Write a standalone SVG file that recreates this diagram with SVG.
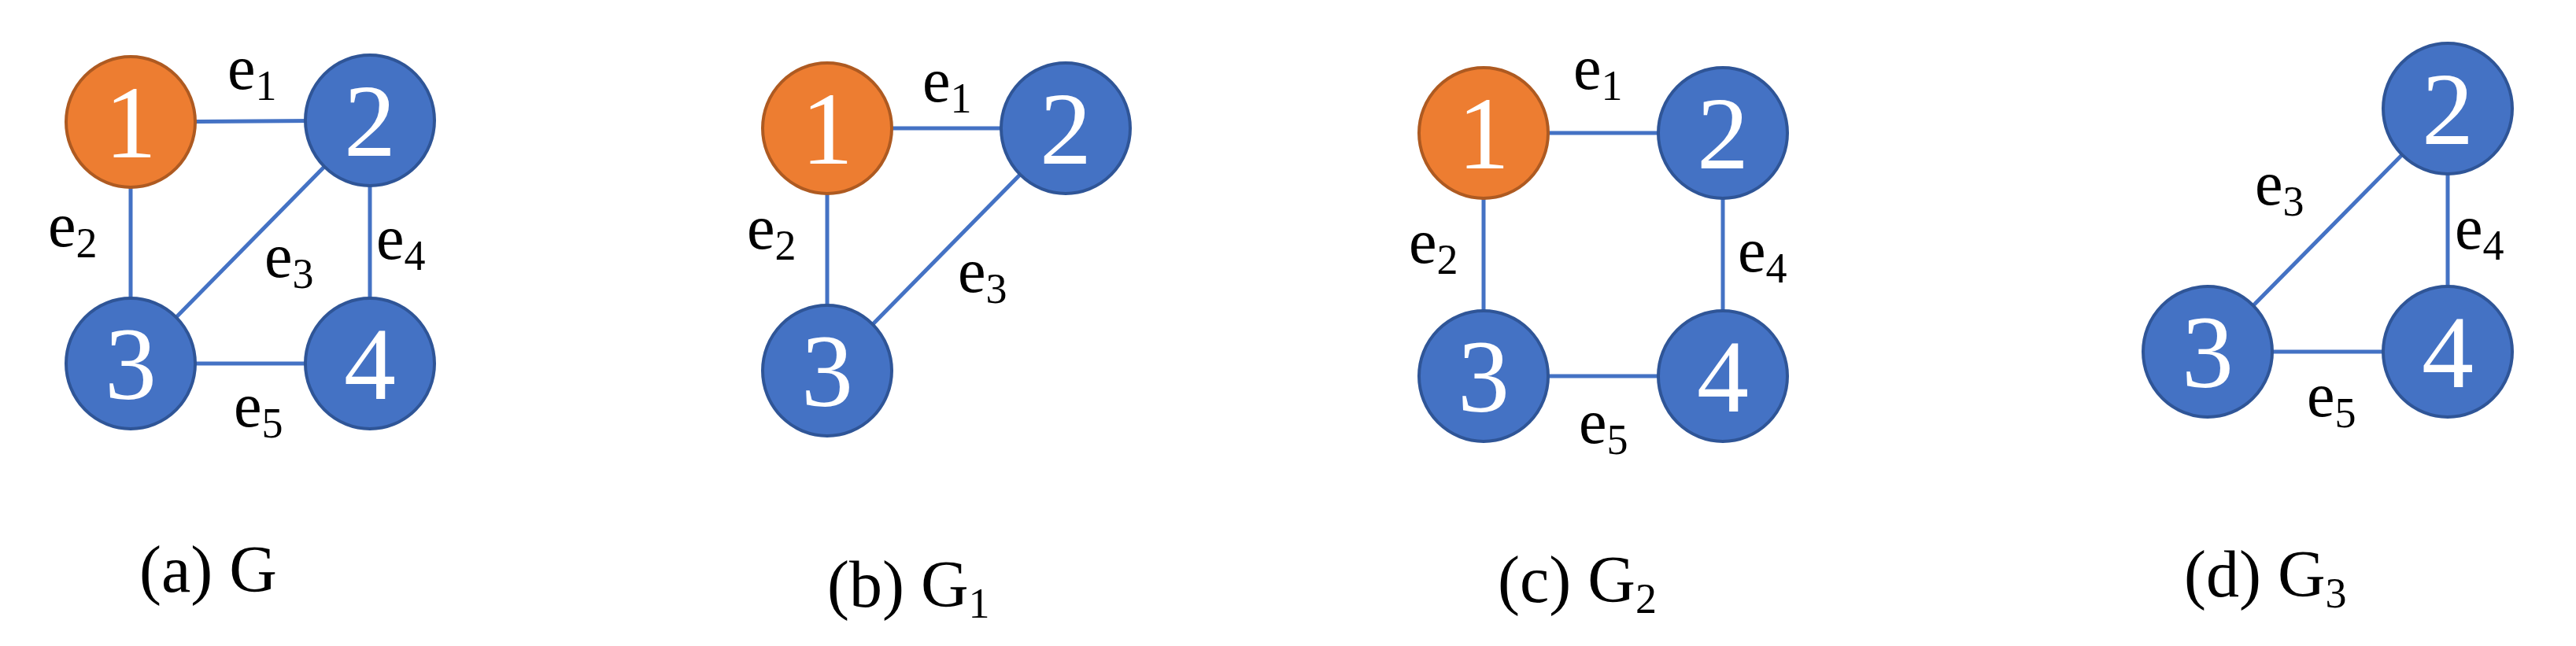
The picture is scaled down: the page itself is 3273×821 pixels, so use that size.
<svg xmlns="http://www.w3.org/2000/svg" width="3273" height="821" viewBox="0 0 3273 821">
<style>
.e{stroke:#4472C4;stroke-width:5;fill:none}
.b{fill:#4472C4;stroke:#2F5597;stroke-width:4}
.o{fill:#ED7D31;stroke:#AE5A21;stroke-width:4}
.n{font-family:"Liberation Serif",serif;font-size:132px;fill:#fff;text-anchor:middle}
.l{font-family:"Liberation Serif",serif;font-size:80px;fill:#000}
.s{font-size:54px}
.c{font-family:"Liberation Serif",serif;font-size:84px;fill:#000}
</style>
<rect width="3273" height="821" fill="#fff"/>
<g id="connectors">
<line class="e" x1="166" y1="155" x2="470" y2="153"/>
<line class="e" x1="166" y1="155" x2="166" y2="462"/>
<line class="e" x1="470" y1="153" x2="166" y2="462"/>
<line class="e" x1="470" y1="153" x2="470" y2="462"/>
<line class="e" x1="166" y1="462" x2="470" y2="462"/>
<line class="e" x1="1051" y1="163" x2="1354" y2="163"/>
<line class="e" x1="1051" y1="163" x2="1051" y2="471"/>
<line class="e" x1="1354" y1="163" x2="1051" y2="471"/>
<line class="e" x1="1885" y1="169" x2="2189" y2="169"/>
<line class="e" x1="1885" y1="169" x2="1885" y2="478"/>
<line class="e" x1="2189" y1="169" x2="2189" y2="478"/>
<line class="e" x1="1885" y1="478" x2="2189" y2="478"/>
<line class="e" x1="3110" y1="138" x2="2805" y2="447"/>
<line class="e" x1="3110" y1="138" x2="3110" y2="447"/>
<line class="e" x1="2805" y1="447" x2="3110" y2="447"/>
</g>
<g id="a1"><ellipse class="o" cx="166" cy="155" rx="82" ry="83"/><text class="n" x="166" y="200">1</text></g>
<g id="a2"><ellipse class="b" cx="470" cy="153" rx="82" ry="83"/><text class="n" x="470" y="198">2</text></g>
<g id="a3"><ellipse class="b" cx="166" cy="462" rx="82" ry="83"/><text class="n" x="166" y="507">3</text></g>
<g id="a4"><ellipse class="b" cx="470" cy="462" rx="82" ry="83"/><text class="n" x="470" y="507">4</text></g>
<g id="b1"><ellipse class="o" cx="1051" cy="163" rx="82" ry="83"/><text class="n" x="1051" y="208">1</text></g>
<g id="b2"><ellipse class="b" cx="1354" cy="163" rx="82" ry="83"/><text class="n" x="1354" y="208">2</text></g>
<g id="b3"><ellipse class="b" cx="1051" cy="471" rx="82" ry="83"/><text class="n" x="1051" y="516">3</text></g>
<g id="c1"><ellipse class="o" cx="1885" cy="169" rx="82" ry="83"/><text class="n" x="1885" y="214">1</text></g>
<g id="c2"><ellipse class="b" cx="2189" cy="169" rx="82" ry="83"/><text class="n" x="2189" y="214">2</text></g>
<g id="c3"><ellipse class="b" cx="1885" cy="478" rx="82" ry="83"/><text class="n" x="1885" y="523">3</text></g>
<g id="c4"><ellipse class="b" cx="2189" cy="478" rx="82" ry="83"/><text class="n" x="2189" y="523">4</text></g>
<g id="d2"><ellipse class="b" cx="3110" cy="138" rx="82" ry="83"/><text class="n" x="3110" y="183">2</text></g>
<g id="d3"><ellipse class="b" cx="2805" cy="447" rx="82" ry="83"/><text class="n" x="2805" y="492">3</text></g>
<g id="d4"><ellipse class="b" cx="3110" cy="447" rx="82" ry="83"/><text class="n" x="3110" y="492">4</text></g>
<g id="labels">
<text class="l" x="289" y="113">e<tspan class="s" dy="14">1</tspan></text>
<text class="l" x="61" y="313">e<tspan class="s" dy="14">2</tspan></text>
<text class="l" x="336" y="352">e<tspan class="s" dy="14">3</tspan></text>
<text class="l" x="478" y="329">e<tspan class="s" dy="14">4</tspan></text>
<text class="l" x="297" y="542">e<tspan class="s" dy="14">5</tspan></text>
<text class="l" x="1172" y="129">e<tspan class="s" dy="14">1</tspan></text>
<text class="l" x="949" y="316">e<tspan class="s" dy="14">2</tspan></text>
<text class="l" x="1217" y="371">e<tspan class="s" dy="14">3</tspan></text>
<text class="l" x="1999" y="113">e<tspan class="s" dy="14">1</tspan></text>
<text class="l" x="1790" y="334">e<tspan class="s" dy="14">2</tspan></text>
<text class="l" x="2208" y="345">e<tspan class="s" dy="14">4</tspan></text>
<text class="l" x="2006" y="563">e<tspan class="s" dy="14">5</tspan></text>
<text class="l" x="2865" y="260">e<tspan class="s" dy="14">3</tspan></text>
<text class="l" x="3119" y="316">e<tspan class="s" dy="14">4</tspan></text>
<text class="l" x="2931" y="529">e<tspan class="s" dy="14">5</tspan></text>
</g>
<g id="captions">
<text class="c" x="177" y="752">(a) G</text>
<text class="c" x="1051" y="771">(b) G<tspan class="s" dy="14">1</tspan></text>
<text class="c" x="1903" y="765">(c) G<tspan class="s" dy="14">2</tspan></text>
<text class="c" x="2775" y="758">(d) G<tspan class="s" dy="14">3</tspan></text>
</g>
</svg>
